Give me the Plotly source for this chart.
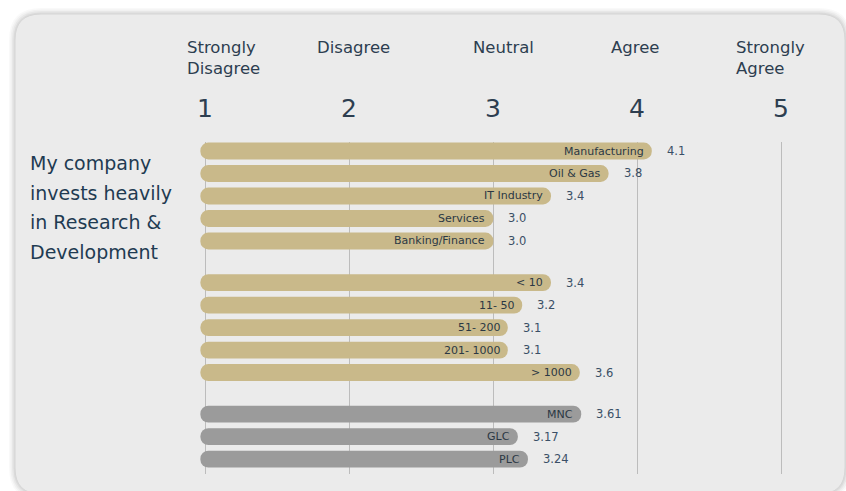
import plotly.graph_objects as go

# ---------------- data ----------------
industries = ["Manufacturing", "Oil & Gas", "IT Industry", "Services", "Banking/Finance"]
industry_scores = [4.1, 3.8, 3.4, 3.0, 3.0]
industry_text = ["4.1", "3.8", "3.4", "3.0", "3.0"]

company_sizes = ["< 10", "11- 50", "51- 200", "201- 1000", "> 1000"]
size_scores = [3.4, 3.2, 3.1, 3.1, 3.6]
size_text = ["3.4", "3.2", "3.1", "3.1", "3.6"]

ownership = ["MNC", "GLC", "PLC"]
ownership_scores = [3.61, 3.17, 3.24]
ownership_text = ["3.61", "3.17", "3.24"]

scale_values = [1, 2, 3, 4, 5]
scale_names = ["Strongly<br>Disagree", "Disagree", "Neutral", "Agree", "Strongly<br>Agree"]
statement_lines = ["My company", "invests heavily", "in Research &", "Development"]

# ---------------- style / layout ----------------
W, H = 846, 491
L, R, T, B = 191, 7, 142, 17
PW, PH = W - L - R, H - T - B
X_RANGE = [0.9, 5.4]
Y_RANGE = [14.36, -0.4]
BAR_LEFT = 0.965           # left edge of the rounded bars
BAR_W = 0.75
TAN = "#c9b98a"
GREY = "#9b9b9b"
TXT = "#2d3e50"
VAL = "#3a4f66"
FONT = "DejaVu Sans"
group_offsets = [0.0, 5.85, 11.7]
header_shift = [18, 4, 10, -2, -11]


def X(px):
    return (px - L) / PW


def Y(py):
    return (H - B - py) / PH


def rrect(x0, y0, x1, y1, r):
    return (f"M {X(x0+r)},{Y(y0)} L {X(x1-r)},{Y(y0)} Q {X(x1)},{Y(y0)} {X(x1)},{Y(y0+r)} "
            f"L {X(x1)},{Y(y1-r)} Q {X(x1)},{Y(y1)} {X(x1-r)},{Y(y1)} "
            f"L {X(x0+r)},{Y(y1)} Q {X(x0)},{Y(y1)} {X(x0)},{Y(y1-r)} "
            f"L {X(x0)},{Y(y0+r)} Q {X(x0)},{Y(y0)} {X(x0+r)},{Y(y0)} Z")


fig = go.Figure()

groups = [
    (industries, industry_scores, industry_text, TAN),
    (company_sizes, size_scores, size_text, TAN),
    (ownership, ownership_scores, ownership_text, GREY),
]

annotations = []
for (names, scores, texts, color), off in zip(groups, group_offsets):
    pos = [off + i for i in range(len(names))]
    fig.add_trace(go.Bar(
        orientation="h", y=pos, x=[s - BAR_LEFT for s in scores], base=BAR_LEFT,
        width=BAR_W, marker=dict(color=color, cornerradius="50%", line=dict(width=0)),
        hoverinfo="skip", showlegend=False,
    ))
    for s, p, t, n in zip(scores, pos, texts, names):
        annotations.append(dict(x=s, y=p, xref="x", yref="y", text=t, showarrow=False,
                                xanchor="left", yanchor="middle", xshift=13,
                                font=dict(family=FONT, size=11.5, color=VAL)))
        annotations.append(dict(x=s, y=p, xref="x", yref="y", text=n, showarrow=False,
                                xanchor="right", yanchor="middle", xshift=-6,
                                font=dict(family=FONT, size=11, color="#2b3844")))

# header numbers and words
for v, name, sh in zip(scale_values, scale_names, header_shift):
    annotations.append(dict(x=v, y=1, xref="x", yref="paper", text=str(v), showarrow=False,
                            xanchor="center", yanchor="middle", yshift=34,
                            font=dict(family=FONT, size=25, color=TXT)))
    annotations.append(dict(x=v, y=1, xref="x", yref="paper", text=name, showarrow=False,
                            xanchor="center", yanchor="top", yshift=106, xshift=sh, align="left",
                            font=dict(family=FONT, size=16.5, color=TXT)))

# statement on the left
for i, line in enumerate(statement_lines):
    annotations.append(dict(x=X(28), y=Y(163 + i * 29.5), xref="paper", yref="paper", text=line,
                            showarrow=False, xanchor="left", yanchor="middle",
                            font=dict(family=FONT, size=19, color="#1f3b52")))

shapes = []
for k, a in enumerate([0.025, 0.03, 0.04, 0.05]):
    g = 6 - k * 1.5
    shapes.append(dict(type="path", xref="paper", yref="paper", layer="below",
                       path=rrect(15 - g, 14 - g, 845 + g, 494 + g, 26 + g),
                       fillcolor=f"rgba(0,0,0,{a})", line=dict(width=0)))
shapes.append(dict(type="path", xref="paper", yref="paper", layer="below",
                   path=rrect(15, 14, 845, 494, 26), fillcolor="#ebebeb",
                   line=dict(color="#d6d6d6", width=1)))

fig.update_layout(
    width=W, height=H,
    margin=dict(l=L, r=R, t=T, b=B, pad=0),
    paper_bgcolor="#ffffff", plot_bgcolor="rgba(0,0,0,0)",
    barmode="overlay", showlegend=False,
    xaxis=dict(range=X_RANGE, tickvals=scale_values, showticklabels=False, showgrid=True,
               gridcolor="#bcbcbc", gridwidth=1, zeroline=False, showline=False, ticks="",
               fixedrange=True),
    yaxis=dict(range=Y_RANGE, visible=False, showgrid=False, zeroline=False, fixedrange=True),
    annotations=annotations, shapes=shapes,
    font=dict(family=FONT),
)

fig.write_html("out.html", config={"displayModeBar": False},
               post_script="document.body.style.margin='0';document.body.style.overflow='hidden';")
